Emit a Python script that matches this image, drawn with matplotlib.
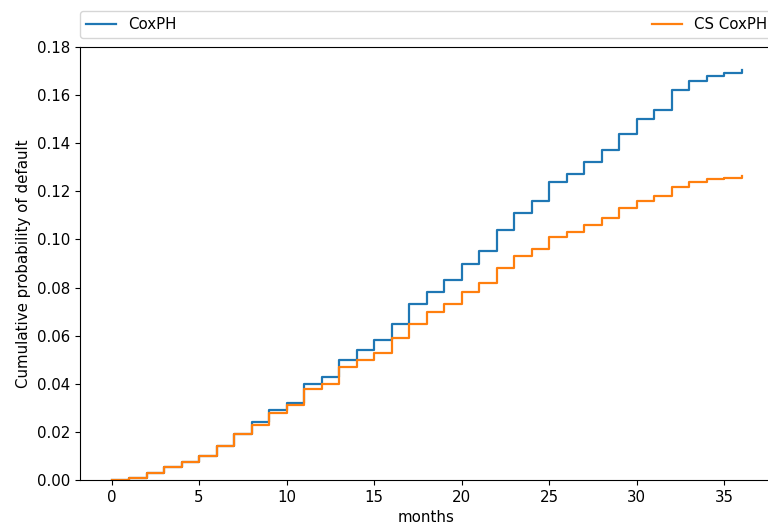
import matplotlib
matplotlib.use("Agg")
import matplotlib.pyplot as plt

months = list(range(0, 37))

coxph = [0.000, 0.001, 0.003, 0.0055, 0.0075, 0.010, 0.014, 0.019, 0.024,
         0.029, 0.032, 0.040, 0.043, 0.050, 0.054, 0.058, 0.065, 0.073,
         0.078, 0.083, 0.090, 0.095, 0.104, 0.111, 0.116, 0.124, 0.127,
         0.132, 0.137, 0.144, 0.150, 0.154, 0.162, 0.166, 0.168, 0.169,
         0.1705]

cs_coxph = [0.000, 0.001, 0.003, 0.0055, 0.0075, 0.010, 0.014, 0.019, 0.023,
            0.028, 0.031, 0.038, 0.040, 0.047, 0.050, 0.053, 0.059, 0.065,
            0.070, 0.073, 0.078, 0.082, 0.088, 0.093, 0.096, 0.101, 0.103,
            0.106, 0.109, 0.113, 0.116, 0.118, 0.122, 0.124, 0.125, 0.1255,
            0.1262]

plt.rcParams["font.size"] = 10.8

fig = plt.figure(figsize=(7.68, 5.27), dpi=100)
# axes runs a few pixels past the right edge, as in the original crop
ax = fig.add_axes([80 / 768, 1 - 480 / 527, 693 / 768, 433 / 527])

ax.step(months, coxph, where="post", label="CoxPH", linewidth=1.6)
ax.step(months, cs_coxph, where="post", label="CS CoxPH", linewidth=1.6)

ax.set_ylim(0, 0.18)
ax.set_xlabel("months")
ax.set_ylabel("Cumulative probability of default")
ax.legend(bbox_to_anchor=(0, 1.02, 1, 0.102), loc="lower left",
          ncol=2, mode="expand", borderaxespad=0.)

fig.savefig("out.png", dpi=100)
